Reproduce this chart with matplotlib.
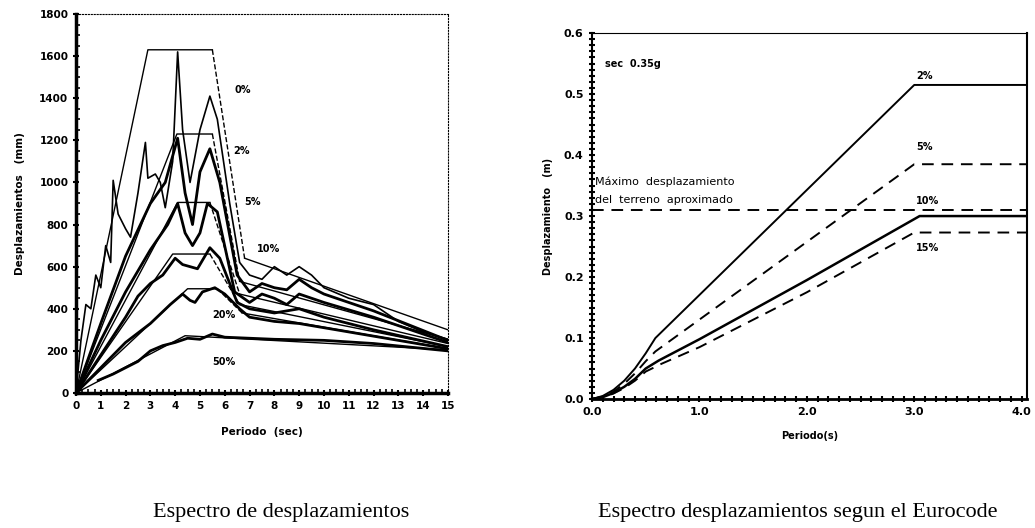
import matplotlib.pyplot as plt
from matplotlib.ticker import MultipleLocator

# ---- left chart: displacement spectra (mm) vs period (s) ----
damping_labels = ["0%", "2%", "5%", "10%", "20%", "50%"]

# design envelopes (thin lines)
env_0_x = [0, 2.9, 5.5, 6.8, 15]
env_0_y = [0, 1630, 1630, 640, 300]
env_2_x = [0, 4.07, 5.5, 6.6, 15]
env_2_y = [0, 1230, 1230, 530, 255]
env_5_x = [0, 4.1, 5.4, 6.6, 15]
env_5_y = [0, 905, 905, 470, 235]
env_10_x = [0, 3.9, 5.4, 6.6, 15]
env_10_y = [0, 660, 660, 420, 220]
env_20_x = [0, 4.5, 5.7, 6.7, 15]
env_20_y = [0, 495, 495, 380, 210]
env_50_x = [0, 4.4, 15]
env_50_y = [0, 272, 205]

# recorded spectra (thick lines)
sp_0_x = [0, 0.2, 0.4, 0.6, 0.8, 1.0, 1.2, 1.4, 1.5, 1.7, 2.0, 2.2, 2.5, 2.8, 2.9, 3.2, 3.4,
          3.6, 3.9, 4.1, 4.3, 4.6, 5.0, 5.4, 5.7, 6.2, 6.6, 7.0, 7.5, 8.0, 8.5, 9.0, 9.5,
          10, 11, 12, 13, 14, 15]
sp_0_y = [0, 250, 420, 400, 560, 500, 700, 620, 1010, 850, 780, 740, 950, 1190, 1020, 1040, 1000,
          880, 1100, 1620, 1250, 1000, 1250, 1410, 1300, 900, 620, 560, 540, 600, 560, 600, 560,
          500, 450, 420, 340, 290, 255]
sp_2_x = [0, 1.0, 2.0, 3.0, 3.6, 4.1, 4.4, 4.7, 5.0, 5.4, 5.8, 6.5, 7.0, 7.5, 8.0, 8.5, 9.0,
          9.5, 10, 12, 15]
sp_2_y = [0, 330, 650, 900, 1000, 1210, 950, 800, 1050, 1160, 1000, 560, 480, 520, 500, 490, 540,
          500, 470, 390, 250]
sp_5_x = [0, 1.0, 2.0, 3.0, 3.7, 4.1, 4.4, 4.7, 5.0, 5.3, 5.7, 6.4, 7.0, 7.5, 8.0, 8.5, 9.0,
          10, 12, 15]
sp_5_y = [0, 250, 480, 680, 800, 900, 760, 700, 760, 900, 860, 480, 430, 470, 450, 420, 470,
          430, 360, 240]
sp_10_x = [0, 1.0, 2.0, 2.5, 3.0, 3.5, 4.0, 4.3, 4.6, 4.9, 5.4, 5.8, 6.5, 7.0, 8.0, 9.0, 10,
           12, 15]
sp_10_y = [0, 180, 360, 460, 520, 560, 640, 610, 600, 590, 690, 640, 430, 400, 380, 400, 360,
           300, 220]
sp_20_x = [0, 1.0, 2.0, 3.0, 3.8, 4.3, 4.6, 4.8, 5.1, 5.6, 6.0, 6.6, 7.0, 8.0, 9.0, 10, 12, 15]
sp_20_y = [0, 120, 240, 330, 420, 470, 440, 430, 480, 500, 470, 400, 360, 340, 330, 310, 270, 210]
sp_50_x = [0.9, 1.5, 2.0, 2.5, 3.0, 3.5, 4.0, 4.5, 5.0, 5.5, 6.0, 8.0, 10, 12, 15]
sp_50_y = [60, 90, 120, 150, 200, 225, 240, 260, 255, 280, 265, 255, 250, 235, 200]

label_pos_x = [6.4, 6.35, 6.8, 7.3, 5.5, 5.5]
label_pos_y = [1440, 1150, 905, 685, 370, 147]

# ---- right chart: Eurocode displacement spectra (m) ----
ec_2_x = [0, 0.1, 0.2, 0.3, 0.4, 0.5, 0.59, 3.0, 4.05]
ec_2_y = [0, 0.005, 0.015, 0.03, 0.05, 0.075, 0.10, 0.515, 0.515]
ec_5_x = [0, 0.1, 0.2, 0.3, 0.4, 0.5, 0.59, 3.0, 4.05]
ec_5_y = [0, 0.004, 0.012, 0.025, 0.042, 0.062, 0.078, 0.385, 0.385]
ec_10_x = [0, 0.1, 0.2, 0.3, 0.4, 0.5, 0.62, 1.0, 2.0, 3.05, 4.05]
ec_10_y = [0, 0.003, 0.01, 0.02, 0.033, 0.05, 0.063, 0.098, 0.195, 0.30, 0.30]
ec_15_x = [0, 0.1, 0.2, 0.3, 0.4, 0.5, 0.65, 1.0, 2.0, 3.0, 4.05]
ec_15_y = [0, 0.003, 0.009, 0.018, 0.03, 0.045, 0.058, 0.085, 0.175, 0.273, 0.273]
ground_max = 0.31
ec_labels = ["2%", "5%", "10%", "15%"]
ec_label_y = [0.522, 0.405, 0.316, 0.24]

fig = plt.figure(figsize=(10.35, 5.28), dpi=100)
plt.rcParams['font.family'] = ['DejaVu Sans']

# ---------- left ----------
ax1 = fig.add_axes([0.0734, 0.2557, 0.3594, 0.7178])
envs = [(env_0_x, env_0_y), (env_2_x, env_2_y), (env_5_x, env_5_y),
        (env_10_x, env_10_y), (env_20_x, env_20_y), (env_50_x, env_50_y)]
for ex, ey in envs:
    if len(ex) < 5:
        ax1.plot(ex, ey, color='black', lw=1.0)
        continue
    # rising part solid, falling part dashed, long tail solid
    ax1.plot(ex[:-2], ey[:-2], color='black', lw=1.0)
    ax1.plot(ex[-3:-1], ey[-3:-1], color='black', lw=1.0, ls='--')
    ax1.plot(ex[-2:], ey[-2:], color='black', lw=1.0)
spectra = [(sp_0_x, sp_0_y), (sp_2_x, sp_2_y), (sp_5_x, sp_5_y),
           (sp_10_x, sp_10_y), (sp_20_x, sp_20_y), (sp_50_x, sp_50_y)]
for i, (sx, sy) in enumerate(spectra):
    ax1.plot(sx, sy, color='black', lw=1.2 if i == 0 else 2.0)
for lab, lx, ly in zip(damping_labels, label_pos_x, label_pos_y):
    ax1.text(lx, ly, lab, fontsize=7, fontweight='bold', ha='left', va='center')

ax1.set_xlim(0, 15)
ax1.set_ylim(0, 1800)
ax1.set_xticks(range(0, 16))
ax1.set_yticks(range(0, 1801, 200))
ax1.xaxis.set_minor_locator(MultipleLocator(0.25))
ax1.yaxis.set_minor_locator(MultipleLocator(50))
ax1.tick_params(axis='both', which='major', labelsize=7.5, length=4, width=1.5, direction='inout')
ax1.tick_params(axis='both', which='minor', length=3, width=1.2, direction='in')
for t in ax1.get_xticklabels() + ax1.get_yticklabels():
    t.set_fontweight('bold')
ax1.spines['left'].set_linewidth(2.5)
ax1.spines['bottom'].set_linewidth(2.5)
ax1.spines['top'].set_linewidth(0.8)
ax1.spines['right'].set_linewidth(0.8)
ax1.spines['top'].set_linestyle(':')
ax1.spines['right'].set_linestyle(':')
ax1.set_xlabel("Periodo  (sec)", fontsize=7.5, fontweight='bold', labelpad=12)
ax1.set_ylabel("Desplazamientos   (mm)", fontsize=7.5, fontweight='bold', labelpad=10)

# ---------- right ----------
ax2 = fig.add_axes([0.572, 0.2443, 0.4203, 0.693])
ax2.plot(ec_2_x, ec_2_y, color='black', lw=1.4)
ax2.plot(ec_5_x, ec_5_y, color='black', lw=1.4, ls=(0, (6, 4)))
ax2.plot(ec_10_x, ec_10_y, color='black', lw=1.8)
ax2.plot(ec_15_x, ec_15_y, color='black', lw=1.4, ls=(0, (6, 4)))
ax2.axhline(ground_max, color='black', lw=1.4, ls=(0, (6, 4)))
for lab, ly in zip(ec_labels, ec_label_y):
    ax2.text(3.02, ly, lab, fontsize=7, fontweight='bold', ha='left', va='bottom')
ax2.text(0.12, 0.55, "sec  0.35g", fontsize=7, fontweight='bold', ha='left', va='center')
ax2.text(0.03, 0.356, "Máximo  desplazamiento", fontsize=8, ha='left', va='center')
ax2.text(0.03, 0.327, "del  terreno  aproximado", fontsize=8, ha='left', va='center')

ax2.set_xlim(0, 4.05)
ax2.set_ylim(0, 0.6)
ax2.set_xticks([0, 1, 2, 3, 4])
ax2.set_xticklabels(["0.0", "1.0", "2.0", "3.0", "4.0"])
ax2.set_yticks([0, 0.1, 0.2, 0.3, 0.4, 0.5, 0.6])
ax2.set_yticklabels(["0.0", "0.1", "0.2", "0.3", "0.4", "0.5", "0.6"])
ax2.xaxis.set_minor_locator(MultipleLocator(0.1))
ax2.yaxis.set_minor_locator(MultipleLocator(0.01))
ax2.tick_params(axis='both', which='major', labelsize=8, length=5, width=1.5, direction='inout')
ax2.tick_params(axis='both', which='minor', length=4, width=1.5, direction='inout')
for t in ax2.get_xticklabels() + ax2.get_yticklabels():
    t.set_fontweight('bold')
ax2.spines['left'].set_linewidth(1.5)
ax2.spines['bottom'].set_linewidth(2.0)
ax2.spines['right'].set_linewidth(1.5)
ax2.spines['top'].set_linewidth(0.8)
ax2.set_xlabel("Periodo(s)", fontsize=7, fontweight='bold', labelpad=10)
ax2.set_ylabel("Desplazamiento   (m)", fontsize=7, fontweight='bold', labelpad=8)

# captions
fig.text(0.272, 0.012, "Espectro de desplazamientos", fontsize=16,
         family='Liberation Serif', ha='center', va='bottom')
fig.text(0.771, 0.012, "Espectro desplazamientos segun el Eurocode", fontsize=16,
         family='Liberation Serif', ha='center', va='bottom')

fig.savefig("out.png", dpi=100)
